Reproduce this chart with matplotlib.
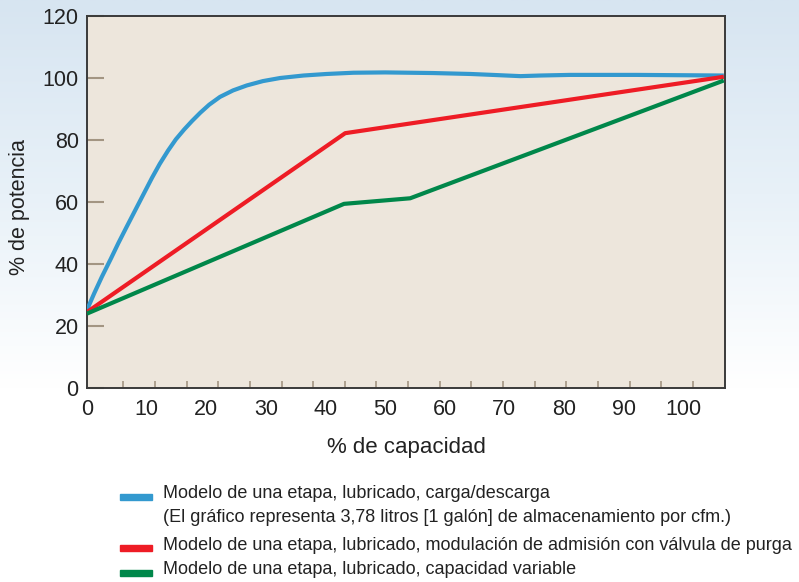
import numpy as np
import matplotlib.pyplot as plt
from matplotlib.patches import Rectangle
from matplotlib.colors import LinearSegmentedColormap

plt.rcParams["font.family"] = ["Liberation Sans", "DejaVu Sans"]

# curve data
blue_x = [0, 1.2, 2.5, 4, 5.25, 6.6, 8.05, 9.5, 10.9, 12.2, 13.6, 14.9, 16.3, 17.6, 19,
          20.5, 22.3, 24.5, 26.8, 29.5, 32.4, 36.3, 40.2, 44.7, 50, 58, 64.3, 68, 72.7,
          76, 81, 92.2, 106.8]
blue_y = [25.2, 30.5, 35.9, 41.7, 46.7, 51.8, 57.2, 62.6, 67.8, 72.3, 76.6, 80.2, 83.4, 86.1, 88.8,
          91.4, 93.9, 96.0, 97.6, 99.0, 100.0, 100.8, 101.3, 101.7, 101.8, 101.6, 101.3, 101.0, 100.6,
          100.8, 101.0, 101.0, 100.8]
red_x = [0, 43.3, 106.8]
red_y = [24.5, 82.2, 100.4]
green_x = [0, 43.1, 54.2, 106.8]
green_y = [24.0, 59.4, 61.2, 99.2]

x_ticks = [0, 10, 20, 30, 40, 50, 60, 70, 80, 90, 100]
y_ticks = [0, 20, 40, 60, 80, 100, 120]

legend_labels = [
    "Modelo de una etapa, lubricado, carga/descarga",
    "(El gráfico representa 3,78 litros [1 galón] de almacenamiento por cfm.)",
    "Modelo de una etapa, lubricado, modulación de admisión con válvula de purga",
    "Modelo de una etapa, lubricado, capacidad variable",
]

BLUE = "#3399cf"
RED = "#ee1c25"
GREEN = "#00874a"
TICK = "#a39582"
TEXT = "#222222"

fig = plt.figure(figsize=(7.99, 5.82), dpi=100)

# light blue background gradient
bg = fig.add_axes([0, 0, 1, 1], zorder=-10)
grad = np.linspace(0, 1, 256).reshape(-1, 1)
cmap = LinearSegmentedColormap.from_list("bg", ["#d7e5f1", "#e8f1f8", "#ffffff", "#ffffff"])
bg.imshow(grad, aspect="auto", cmap=cmap, extent=[0, 1, 0, 1], origin="upper")
bg.axis("off")

ax = fig.add_axes([87 / 799, 1 - 388 / 582, (725 - 87) / 799, (388 - 16) / 582])
ax.set_facecolor("#ede6dc")

ax.plot(blue_x, blue_y, color=BLUE, lw=3.0, solid_capstyle="butt", solid_joinstyle="round", zorder=3)
ax.plot(red_x, red_y, color=RED, lw=3.0, solid_capstyle="butt", zorder=3)
ax.plot(green_x, green_y, color=GREEN, lw=3.0, solid_capstyle="butt", zorder=3)

ax.set_xlim(0, 107)
ax.set_ylim(0, 120)

ax.set_xticks(x_ticks)
ax.set_xticks(np.linspace(6.1, 101.6, 19), minor=True)
ax.tick_params(axis="x", which="major", length=0, pad=8, labelsize=15.5, colors=TEXT)
ax.tick_params(axis="x", which="minor", direction="in", length=5, width=1.2, color=TICK)

ax.set_yticks(y_ticks)
ax.tick_params(axis="y", which="major", direction="in", length=12, width=1.5, color=TICK,
               pad=6, labelsize=15.5, labelcolor=TEXT)

for side in ["top", "right", "left", "bottom"]:
    ax.spines[side].set_color("#3a3a3a")
    ax.spines[side].set_linewidth(1.4)

fig.text(20 / 799, 1 - 207 / 582, "% de potencia", rotation=90, ha="center", va="center",
         fontsize=15.5, color=TEXT)
fig.text(406 / 799, 1 - 447 / 582, "% de capacidad", ha="center", va="center",
         fontsize=16, color=TEXT)

# legend drawn by hand
handles = [(BLUE, 493, 497), (None, 517, None), (RED, 546, 548), (GREEN, 570, 573)]
for (col, ty, ry), label in zip(handles, legend_labels):
    if col is not None:
        fig.add_artist(Rectangle((120 / 799, 1 - (ry + 3) / 582), 32 / 799, 6 / 582,
                                 transform=fig.transFigure, color=col))
    fig.text(163 / 799, 1 - ty / 582, label, ha="left", va="center", fontsize=13,
             color=TEXT)

fig.savefig("out.png", dpi=100)
